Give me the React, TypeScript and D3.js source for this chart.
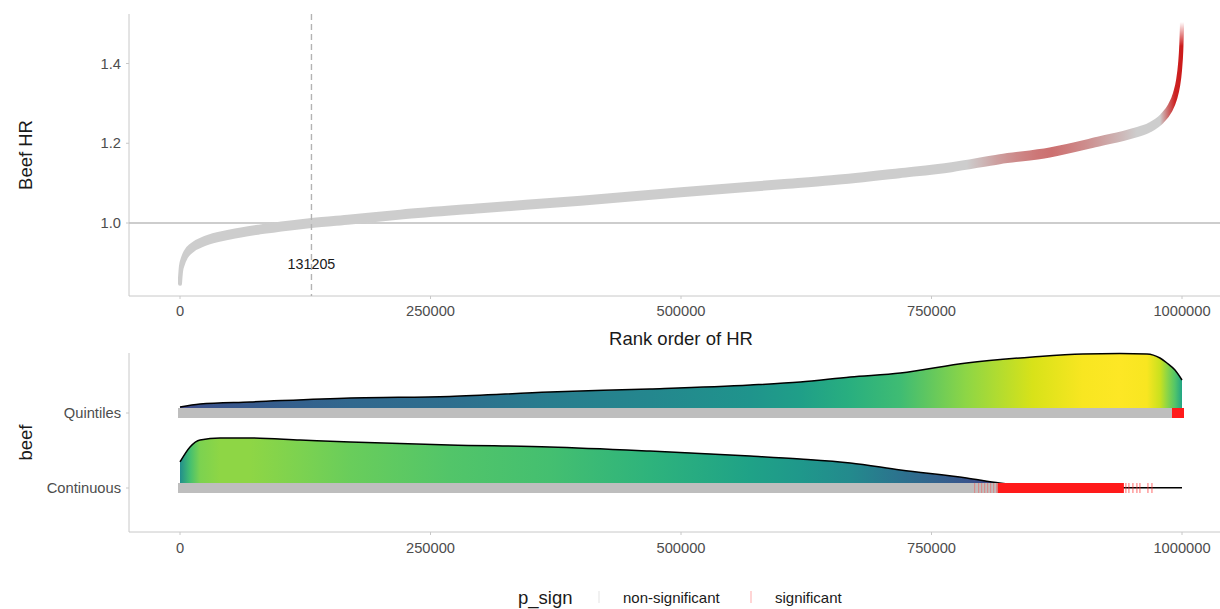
import React from 'react';
import * as d3 from 'd3';

// ---------- data ----------
const xTicks = [0, 250000, 500000, 750000, 1000000];
const yTicks = [1.0, 1.2, 1.4];
const crossRank = 131205;

// ranked HR curve (rank, HR)
const hrRank = [0, 1000, 3000, 6000, 12000, 25000, 50000, 80000, 110000, 131205, 170000, 220000, 300000, 400000, 500000, 600000, 650000, 718000, 770000, 818000, 868000, 918000, 951000, 968000, 980000, 988000, 993000, 996000, 998000, 999300, 1000000];
const hrValue = [0.855, 0.885, 0.905, 0.922, 0.938, 0.955, 0.971, 0.984, 0.994, 1.0, 1.009, 1.021, 1.037, 1.056, 1.077, 1.097, 1.107, 1.125, 1.14, 1.16, 1.177, 1.205, 1.225, 1.24, 1.262, 1.288, 1.318, 1.35, 1.39, 1.44, 1.495];

// share of significant points along the ranked curve
const bandSigRank = [0, 785000, 800000, 815000, 835000, 855000, 870000, 885000, 905000, 925000, 942000, 955000, 978000, 986000, 993000, 1000000];
const bandSigShare = [0, 0, 0.12, 0.25, 0.38, 0.48, 0.52, 0.45, 0.35, 0.22, 0.1, 0, 0, 0.55, 0.95, 1];

const categories = ['Quintiles', 'Continuous'];

// ridge densities (relative height, 1 = category spacing)
const quintRank = [0, 20000, 70000, 170000, 269000, 369000, 469000, 569000, 619000, 669000, 719000, 785000, 851000, 901000, 938000, 965000, 978000, 985000, 993000, 1000000];
const quintDens = [0.08, 0.12, 0.147, 0.2, 0.22, 0.28, 0.32, 0.373, 0.413, 0.48, 0.533, 0.667, 0.747, 0.787, 0.793, 0.787, 0.733, 0.667, 0.573, 0.44];
const contRank = [0, 10000, 20000, 40000, 70000, 120000, 170000, 269000, 369000, 469000, 569000, 619000, 669000, 719000, 785000, 818000, 851000, 888000, 1000000];
const contDens = [0.347, 0.547, 0.64, 0.667, 0.667, 0.64, 0.613, 0.573, 0.547, 0.493, 0.427, 0.387, 0.333, 0.24, 0.133, 0.067, 0.02, 0.004, 0.003];

// rugs
const quintRugGray: [number, number][] = [[0, 992000]];
const quintRugRed: [number, number][] = [[992000, 1000000]];
const contRugGray: [number, number][] = [[0, 818000]];
const contRugRed: [number, number][] = [[818000, 940000]];
const contRugRedTicks = [944000, 947000, 951000, 955000, 958000, 966000, 970000];
const contRugFaintTicks = [793000, 797000, 800000, 803000, 806000, 809000, 812000, 815000];

const legendTitle = 'p_sign';
const legendLabels = ['non-significant', 'significant'];

// ---------- layout ----------
const W = 1220, H = 609;
const FONT = '"Liberation Sans", Arial, Helvetica, sans-serif';
const AX = '#c8c8c8';
const TICK_TXT = '#4d4d4d';
const panelLeft = 129;
const topPanel = { top: 14, bottom: 296 };
const botPanel = { top: 353, bottom: 532 };

export default function App() {
  const x = d3.scaleLinear().domain([0, 1000000]).range([180, 1182]);
  const yHR = d3.scaleLinear().domain([1.0, 1.4]).range([223, 63.5]);
  const yCat = d3.scalePoint<string>().domain(categories).range([413, 488]);
  const hScale = d3.scaleLinear().domain([0, 1]).range([0, 75]);
  const tScale = d3.scaleLinear().domain([-0.116, 0.667, 0.793]).range([0, 0.83, 1]).clamp(true);
  const colorScale = (d: number) => d3.interpolateViridis(tScale(d));
  const sigColor = d3.interpolateRgb('#cdcdcd', '#cc1a1a');

  const idx = d3.range(hrRank.length);
  const half = 3;
  const bandArea = d3.area<number>()
    .x(i => x(hrRank[i]))
    .y0(i => yHR(hrValue[i]) - half)
    .y1(i => yHR(hrValue[i]) + half)
    .curve(d3.curveMonotoneX)(idx) as string;

  const x0 = x(0), x1 = x(1000000);
  const off = (r: number) => (x(r) - x0) / (x1 - x0);

  const ridge = (ranks: number[], dens: number[], cat: string) => {
    const base = yCat(cat) as number;
    const ii = d3.range(ranks.length);
    const area = d3.area<number>()
      .x(i => x(ranks[i]))
      .y0(base)
      .y1(i => base - hScale(dens[i]))
      .curve(d3.curveMonotoneX)(ii) as string;
    const line = d3.line<number>()
      .x(i => x(ranks[i]))
      .y(i => base - hScale(dens[i]))
      .curve(d3.curveMonotoneX)(ii) as string;
    return { area, line, base };
  };
  const rq = ridge(quintRank, quintDens, 'Quintiles');
  const rc = ridge(contRank, contDens, 'Continuous');

  const rugH = 10;
  const rugRect = (span: [number, number], base: number, fill: string, key: string, op = 1) => (
    <rect key={key} x={x(span[0]) - 2} y={base - rugH / 2} width={x(span[1]) - x(span[0]) + 4} height={rugH} fill={fill} opacity={op} />
  );

  return (
    <svg width={W} height={H} style={{ position: 'absolute', left: 0, top: 0, background: '#fff' }} fontFamily={FONT}>
      <defs>
        <linearGradient id="bandGrad" gradientUnits="userSpaceOnUse" x1={x0} x2={x1} y1={0} y2={0}>
          {bandSigRank.map((r, i) => (
            <stop key={i} offset={off(r)} stopColor={sigColor(bandSigShare[i])} />
          ))}
        </linearGradient>
        <linearGradient id="fadeGrad" gradientUnits="userSpaceOnUse" x1={0} x2={0} y1={22} y2={46}>
          <stop offset={0} stopColor="#000" />
          <stop offset={1} stopColor="#fff" />
        </linearGradient>
        <mask id="fadeMask" maskUnits="userSpaceOnUse" x={0} y={0} width={W} height={H}>
          <rect x={0} y={0} width={W} height={H} fill="url(#fadeGrad)" />
        </mask>
        <linearGradient id="gradQ" gradientUnits="userSpaceOnUse" x1={x0} x2={x1} y1={0} y2={0}>
          {quintRank.map((r, i) => (
            <stop key={i} offset={off(r)} stopColor={colorScale(quintDens[i])} />
          ))}
        </linearGradient>
        <linearGradient id="gradC" gradientUnits="userSpaceOnUse" x1={x0} x2={x1} y1={0} y2={0}>
          {contRank.map((r, i) => (
            <stop key={i} offset={off(r)} stopColor={colorScale(contDens[i])} />
          ))}
        </linearGradient>
      </defs>

      {/* ---------- top panel ---------- */}
      <line x1={panelLeft} x2={panelLeft} y1={topPanel.top} y2={topPanel.bottom} stroke={AX} strokeWidth={1} />
      <line x1={panelLeft} x2={W} y1={topPanel.bottom} y2={topPanel.bottom} stroke={AX} strokeWidth={1} />
      {yTicks.map(t => (
        <g key={t}>
          <line x1={panelLeft - 3} x2={panelLeft} y1={yHR(t)} y2={yHR(t)} stroke={AX} />
          <text x={121} y={yHR(t) + 5} textAnchor="end" fontSize={14.7} fill={TICK_TXT}>{t.toFixed(1)}</text>
        </g>
      ))}
      {xTicks.map(t => (
        <g key={t}>
          <line x1={x(t)} x2={x(t)} y1={topPanel.bottom} y2={topPanel.bottom + 3} stroke={AX} />
          <text x={x(t)} y={316} textAnchor="middle" fontSize={14.7} fill={TICK_TXT}>{t}</text>
        </g>
      ))}
      <line x1={panelLeft} x2={W} y1={yHR(1.0)} y2={yHR(1.0)} stroke="#bdbdbd" strokeWidth={1.6} />
      <g mask="url(#fadeMask)">
        <path d={bandArea} fill="url(#bandGrad)" stroke="url(#bandGrad)" strokeWidth={4} strokeLinejoin="round" />
      </g>
      <line x1={x(crossRank)} x2={x(crossRank)} y1={topPanel.top} y2={topPanel.bottom} stroke="#b3b3b3" strokeWidth={1.4} strokeDasharray="6,4" />
      <text x={x(crossRank)} y={269} textAnchor="middle" fontSize={14.3} fill="#1a1a1a">{crossRank}</text>
      <text transform={`translate(32,${(topPanel.top + topPanel.bottom) / 2}) rotate(-90)`} textAnchor="middle" fontSize={18.5} fill="#1a1a1a">Beef HR</text>
      <text x={(x0 + x1) / 2} y={345} textAnchor="middle" fontSize={18.5} fill="#1a1a1a">Rank order of HR</text>

      {/* ---------- bottom panel ---------- */}
      <line x1={panelLeft} x2={panelLeft} y1={botPanel.top} y2={botPanel.bottom} stroke={AX} strokeWidth={1} />
      <line x1={panelLeft} x2={W} y1={botPanel.bottom} y2={botPanel.bottom} stroke={AX} strokeWidth={1} />
      {categories.map(c => (
        <g key={c}>
          <line x1={panelLeft - 3} x2={panelLeft} y1={yCat(c)} y2={yCat(c)} stroke={AX} />
          <text x={121} y={(yCat(c) as number) + 5} textAnchor="end" fontSize={14.7} fill={TICK_TXT}>{c}</text>
        </g>
      ))}
      {xTicks.map(t => (
        <g key={t}>
          <line x1={x(t)} x2={x(t)} y1={botPanel.bottom} y2={botPanel.bottom + 3} stroke={AX} />
          <text x={x(t)} y={553} textAnchor="middle" fontSize={14.7} fill={TICK_TXT}>{t}</text>
        </g>
      ))}
      <text transform={`translate(32,${(botPanel.top + botPanel.bottom) / 2}) rotate(-90)`} textAnchor="middle" fontSize={18.5} fill="#1a1a1a">beef</text>

      <path d={rq.area} fill="url(#gradQ)" />
      <path d={rc.area} fill="url(#gradC)" />
      <path d={rq.line} fill="none" stroke="#000" strokeWidth={1.5} />
      <path d={rc.line} fill="none" stroke="#000" strokeWidth={1.5} />

      {quintRugGray.map((s, i) => rugRect(s, rq.base, '#bebebe', 'qg' + i))}
      {quintRugRed.map((s, i) => rugRect(s, rq.base, '#ff1a1a', 'qr' + i))}
      {contRugGray.map((s, i) => rugRect(s, rc.base, '#bebebe', 'cg' + i))}
      {contRugFaintTicks.map((r, i) => (
        <line key={'cf' + i} x1={x(r)} x2={x(r)} y1={rc.base - rugH / 2} y2={rc.base + rugH / 2} stroke="#ff4040" strokeWidth={1.2} opacity={0.4} />
      ))}
      {contRugRed.map((s, i) => rugRect(s, rc.base, '#ff1a1a', 'cr' + i))}
      {contRugRedTicks.map((r, i) => (
        <line key={'ct' + i} x1={x(r)} x2={x(r)} y1={rc.base - rugH / 2} y2={rc.base + rugH / 2} stroke="#ff3030" strokeWidth={1.2} opacity={0.6} />
      ))}

      {/* ---------- legend ---------- */}
      <text x={518} y={604} fontSize={18.5} fill="#1a1a1a">{legendTitle}</text>
      <line x1={599} x2={599} y1={591} y2={603} stroke="#bebebe" strokeWidth={1.2} opacity={0.35} />
      <text x={623} y={603} fontSize={15} fill="#1a1a1a">{legendLabels[0]}</text>
      <line x1={751} x2={751} y1={591} y2={603} stroke="#ff1a1a" strokeWidth={1.2} opacity={0.3} />
      <text x={775} y={603} fontSize={15} fill="#1a1a1a">{legendLabels[1]}</text>
    </svg>
  );
}
